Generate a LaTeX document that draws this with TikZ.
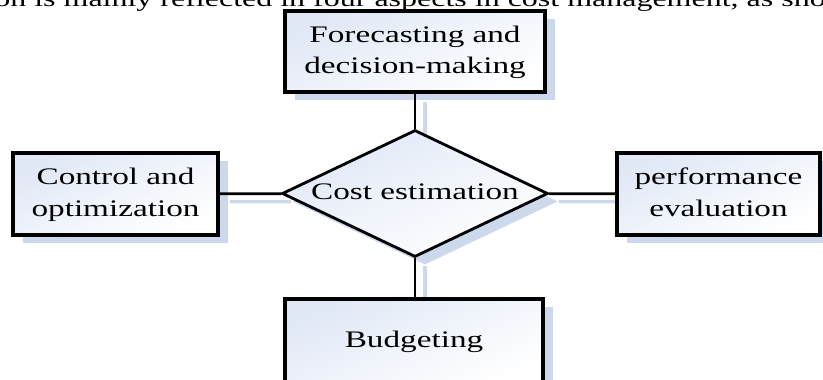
\documentclass[tikz,border=0pt]{standalone}
\usepackage{graphicx}
\usepackage{fontspec}
\setmainfont{Liberation Serif}
\usetikzlibrary{shapes.geometric,shadows,backgrounds}
\definecolor{shadowblue}{RGB}{205,216,236}
\definecolor{tintblue}{RGB}{224,232,246}
\newcommand\widen[1]{\scalebox{1.4}[1]{\begin{tabular}{@{}c@{}}#1\end{tabular}}}

\begin{document}
\begin{tikzpicture}[
        >=latex,
        font=\fontsize{13.5}{18}\selectfont,
        tinted/.style = {
            top color=tintblue, bottom color=white, shading angle=25,
            drop shadow={shadow xshift=0.2cm, shadow yshift=-0.16cm, fill=shadowblue, opacity=1}
        },
        box/.style = {
            draw, tinted, line width=2.2pt, inner sep=0pt,
            minimum width=#1, minimum height=1.63cm
        },
        link/.style = {line width=1.6pt},
        linkshade/.style = {line width=1.8pt, shadowblue, transform canvas={shift={(0.2,-0.16)}}}
    ]
        \useasboundingbox (0,0) rectangle (16.46,7.6);
        \clip (0,0) rectangle (16.46,7.6);

        \node[anchor=base east, inner sep=0pt, font=\fontsize{13}{16}\selectfont] (prose) at (16.52,7.48){\widen{on is mainly reflected in four aspects in cost management, as sho}};

        \node[box=5.2cm] (forecast) at (8.3,6.57){\widen{Forecasting and\\decision-making}};
        \node[box=4.1cm] (control) at (2.31,3.72){\widen{Control and\\optimization}};
        \node[box=4.06cm] (perform) at (14.37,3.72){\widen{performance\\evaluation}};
        \node[box=5.16cm, minimum height=1.7cm] (budget) at (8.28,0.77){\widen{Budgeting}};

        \node[diamond, draw, tinted, line width=1.6pt, aspect=2.1, inner sep=-4pt,
              minimum width=5.32cm, minimum height=2.54cm] (cost) at (8.3,3.73){\widen{Cost estimation}};

        \draw[link] (forecast) -- (cost);
        \draw[link] (control) -- (cost);
        \draw[link] (cost) -- (perform);
        \draw[link] (cost.south) -- (cost.south |- budget.north);

        \begin{pgfonlayer}{background}
            \draw[linkshade] (forecast) -- (cost);
            \draw[linkshade] (control) -- (cost);
            \draw[linkshade] (cost) -- (perform);
            \draw[linkshade] (cost.south) -- (cost.south |- budget.north);
        \end{pgfonlayer}
    \end{tikzpicture}
\end{document}
